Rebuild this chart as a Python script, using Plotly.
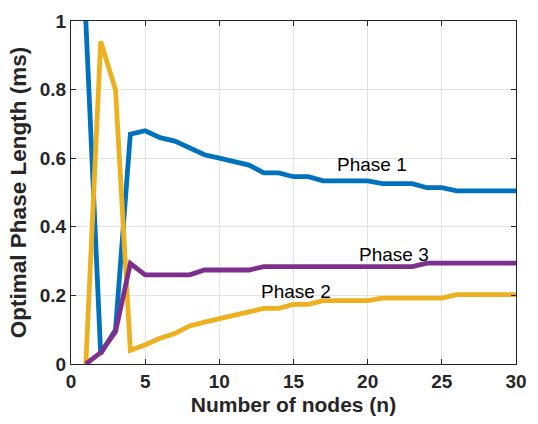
import plotly.graph_objects as go

nodes = list(range(1, 31))
phase1 = [1.0, 0.03, 0.10, 0.67, 0.68, 0.66, 0.65, 0.63, 0.61, 0.60,
          0.59, 0.58, 0.557, 0.557, 0.546, 0.546, 0.534, 0.534, 0.534, 0.534,
          0.526, 0.526, 0.526, 0.514, 0.514, 0.505, 0.505, 0.505, 0.505, 0.505]
phase2 = [0.0, 0.94, 0.80, 0.04, 0.056, 0.075, 0.089, 0.111, 0.122, 0.131,
          0.143, 0.152, 0.162, 0.162, 0.174, 0.174, 0.185, 0.185, 0.185, 0.185,
          0.192, 0.192, 0.192, 0.192, 0.192, 0.202, 0.202, 0.202, 0.202, 0.202]
phase3 = [0.0, 0.033, 0.094, 0.293, 0.26, 0.26, 0.26, 0.26, 0.274, 0.274,
          0.274, 0.274, 0.284, 0.284, 0.284, 0.284, 0.284, 0.284, 0.284, 0.284,
          0.284, 0.284, 0.284, 0.294, 0.294, 0.294, 0.294, 0.294, 0.294, 0.294]

labels = ["Phase 1", "Phase 2", "Phase 3"]
label_x = [20.3, 15.2, 21.8]
label_y = [0.583, 0.212, 0.32]

x_ticks = [0, 5, 10, 15, 20, 25, 30]
y_ticks = [0, 0.2, 0.4, 0.6, 0.8, 1]
y_tick_text = ["0", "0.2", "0.4", "0.6", "0.8", "1"]

colors = ["#0072BD", "#EDB120", "#7E2F8E"]

fig = go.Figure()
for ys, c, name in zip([phase1, phase2, phase3], colors, labels):
    fig.add_trace(go.Scatter(x=nodes, y=ys, mode="lines", name=name,
                             line=dict(color=c, width=4.8), showlegend=False))

for t, xx, yy in zip(labels, label_x, label_y):
    fig.add_annotation(x=xx, y=yy, text=t, showarrow=False,
                       xanchor="center", yanchor="middle",
                       font=dict(family="Liberation Sans, Arial", size=19, color="#000000"))

axis_common = dict(showline=True, linecolor="#262626", linewidth=1.3, mirror="ticks",
                   ticks="inside", ticklen=5, tickcolor="#262626", tickwidth=1,
                   showgrid=True, gridcolor="#e3e3e3", gridwidth=1, zeroline=False,
                   tickfont=dict(family="Liberation Sans, Arial", size=19, color="#262626",
                                 weight="bold"))

fig.update_xaxes(range=[0, 30], tickvals=x_ticks, **axis_common,
                 title=dict(text="<b>Number of nodes (n)</b>", standoff=6,
                            font=dict(family="Liberation Sans, Arial", size=21, color="#262626")))
fig.update_yaxes(range=[0, 1], tickvals=y_ticks, ticktext=y_tick_text, **axis_common,
                 title=dict(text="<b>Optimal Phase Length (ms)</b>", standoff=6,
                            font=dict(family="Liberation Sans, Arial", size=22.5, color="#262626")))

fig.update_layout(width=538, height=424, plot_bgcolor="white", paper_bgcolor="white",
                  margin=dict(l=71, r=11, t=12, b=56))

fig.write_html("out.html")
